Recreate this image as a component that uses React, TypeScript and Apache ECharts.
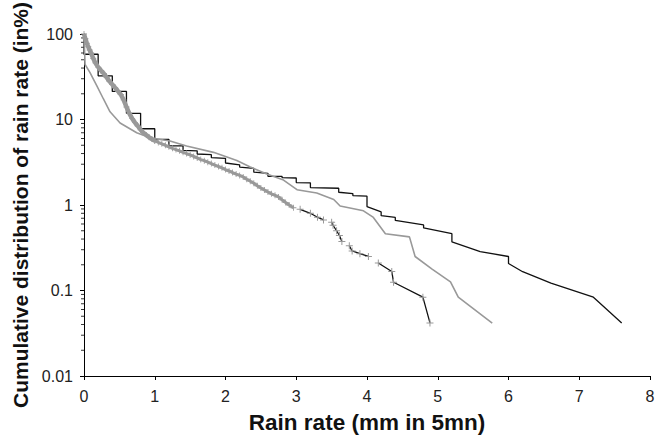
import React, { useEffect, useRef } from "react";
import * as echarts from "echarts";

// Black step-like curve
const blackX = [0, 0, 0.2, 0.2, 0.4, 0.4, 0.6, 0.6, 0.8, 0.8, 1.0, 1.0, 1.2, 1.2, 1.4, 1.4, 1.6, 1.6, 1.8, 1.8, 2.0, 2.0, 2.2, 2.2, 2.4, 2.4, 2.6, 2.6, 2.8, 2.8, 3.0, 3.0, 3.2, 3.2, 3.6, 3.6, 3.8, 3.8, 4.0, 4.0, 4.2, 4.2, 4.4, 4.4, 4.8, 4.8, 5.2, 5.2, 5.6, 6.0, 6.0, 6.2, 6.6, 7.2, 7.6];
const blackY = [100, 58, 58, 32.4, 32.4, 21.3, 21.3, 11.8, 11.8, 7.8, 7.8, 5.87, 5.87, 4.92, 4.92, 4.35, 4.3, 3.95, 3.88, 3.58, 3.52, 3.1, 2.95, 2.78, 2.68, 2.42, 2.35, 2.17, 2.16, 2.09, 2.07, 1.83, 1.82, 1.6, 1.57, 1.41, 1.36, 1.29, 1.27, 0.96, 0.83, 0.75, 0.716, 0.66, 0.585, 0.54, 0.462, 0.371, 0.285, 0.25, 0.207, 0.166, 0.122, 0.0836, 0.0416];

// Thin gray curve
const grayX = [0, 0.015, 0.085, 0.18, 0.273, 0.368, 0.51, 0.745, 0.934, 1.216, 1.45, 1.83, 2.16, 2.35, 2.584, 2.82, 3.01, 3.29, 3.53, 3.62, 3.95, 4.09, 4.26, 4.6, 4.68, 4.92, 5.18, 5.29, 5.77];
const grayY = [100, 44, 35.3, 24.9, 17.5, 12.3, 9.1, 7.0, 6.1, 5.6, 4.9, 4.13, 3.32, 2.79, 2.3, 1.96, 1.51, 1.38, 1.16, 0.975, 0.855, 0.716, 0.462, 0.424, 0.25, 0.178, 0.126, 0.0836, 0.0416];

// Gray "+" marked curve, dense head (0 to 1 mm)
const headX = [0, 0.02, 0.04, 0.06, 0.08, 0.1, 0.13, 0.16, 0.2, 0.24, 0.28, 0.32, 0.36, 0.4, 0.44, 0.48, 0.52, 0.56, 0.6, 0.64, 0.68, 0.72, 0.76, 0.8, 0.84, 0.88, 0.92, 0.96, 1.0];
const headY = [100, 88, 78, 71, 65, 60, 52, 46, 41, 37.5, 34.5, 31, 28, 25.7, 23.5, 21.5, 19.6, 17, 14, 11.8, 10.3, 9.2, 8.4, 7.6, 7.0, 6.6, 6.2, 5.9, 5.65];
// Gray "+" marked curve, dense middle (1 to 3 mm)
const midX = [1.0, 1.05, 1.1, 1.15, 1.2, 1.25, 1.3, 1.35, 1.4, 1.45, 1.5, 1.55, 1.6, 1.65, 1.7, 1.75, 1.8, 1.85, 1.9, 1.95, 2.0, 2.05, 2.1, 2.15, 2.2, 2.25, 2.3, 2.35, 2.4, 2.45, 2.5, 2.55, 2.6, 2.65, 2.7, 2.75, 2.8, 2.85, 2.9, 2.96];
const midY = [5.65, 5.4, 5.2, 5.0, 4.8, 4.6, 4.45, 4.3, 4.13, 4.0, 3.85, 3.7, 3.55, 3.4, 3.3, 3.17, 3.05, 2.93, 2.82, 2.72, 2.6, 2.5, 2.4, 2.3, 2.22, 2.13, 2.0, 1.9, 1.8, 1.68, 1.58, 1.5, 1.42, 1.35, 1.3, 1.24, 1.15, 1.07, 1.0, 0.93];

// Tail segments of the "+" curve (broken line)
const tail1X = [3.055, 3.2, 3.3, 3.385];
const tail1Y = [0.89, 0.8, 0.72, 0.67];
const tail2X = [3.5, 3.52, 3.57, 3.61, 3.645];
const tail2Y = [0.628, 0.58, 0.5, 0.44, 0.375];
const tail3X = [3.75, 3.79, 3.9, 4.02];
const tail3Y = [0.334, 0.29, 0.27, 0.25];
const tail4X = [4.16, 4.35, 4.375, 4.79, 4.89];
const tail4Y = [0.21, 0.167, 0.125, 0.0836, 0.0418];

const yMinorTicks = [0.02, 0.03, 0.04, 0.05, 0.06, 0.07, 0.08, 0.09, 0.2, 0.3, 0.4, 0.5, 0.6, 0.7, 0.8, 0.9, 2, 3, 4, 5, 6, 7, 8, 9, 20, 30, 40, 50, 60, 70, 80, 90];

const zip = (xs: number[], ys: number[]) => xs.map((x, i) => [x, ys[i]]);

const FONT = "'Liberation Sans', Arial, sans-serif";
const PLUS = "path://M3,0H4V3H7V4H4V7H3V4H0V3H3Z";

export default function App() {
  const ref = useRef<HTMLDivElement>(null);
  useEffect(() => {
    const chart = echarts.init(ref.current!, null, { renderer: "svg" });
    const tailSeries = [
      [tail1X, tail1Y],
      [tail2X, tail2Y],
      [tail3X, tail3Y],
      [tail4X, tail4Y],
    ].map(([xs, ys]) => ({
      type: "line",
      data: zip(xs as number[], ys as number[]),
      symbol: PLUS,
      symbolSize: 7,
      showSymbol: true,
      itemStyle: { color: "#999" },
      lineStyle: { color: "#111", width: 1.3 },
      z: 5,
    }));
    chart.setOption({
      animation: false,
      backgroundColor: "#fff",
      grid: { left: 84, right: 17, top: 27, bottom: 61 },
      xAxis: {
        type: "value",
        min: 0,
        max: 8,
        interval: 1,
        name: "Rain rate (mm in 5mn)",
        nameLocation: "middle",
        nameGap: 35,
        nameTextStyle: { fontFamily: FONT, fontWeight: "bold", fontSize: 22.5, color: "#111" },
        axisLine: { show: true, lineStyle: { color: "#000", width: 1 } },
        axisTick: { show: true, length: 4, lineStyle: { color: "#000" } },
        axisLabel: { fontFamily: FONT, fontSize: 16, color: "#222", margin: 12 },
        splitLine: { show: false },
      },
      yAxis: {
        type: "log",
        logBase: 10,
        min: 0.01,
        max: 100,
        name: "Cumulative distribution of rain rate (in%)",
        nameLocation: "middle",
        nameRotate: 90,
        nameGap: 50,
        nameTextStyle: { fontFamily: FONT, fontWeight: "bold", fontSize: 21, color: "#111" },
        axisLine: { show: true, lineStyle: { color: "#000", width: 1 } },
        axisTick: { show: true, length: 4, lineStyle: { color: "#000" } },
        axisLabel: {
          fontFamily: FONT,
          fontSize: 16,
          color: "#222",
          margin: 11,
          formatter: (v: number) => {
            const e = Math.round(Math.log10(v));
            return e >= 0 ? String(Math.pow(10, e)) : Math.pow(10, e).toFixed(-e);
          },
        },
        splitLine: { show: false },
      },
      series: [
        {
          type: "scatter",
          data: yMinorTicks.map((v) => [0, v]),
          symbol: "rect",
          symbolSize: [3, 1],
          symbolOffset: [-1.5, 0],
          itemStyle: { color: "#000" },
          clip: false,
          silent: true,
          z: 1,
        },
        {
          type: "line",
          data: zip(blackX, blackY),
          showSymbol: false,
          symbol: "none",
          lineStyle: { color: "#111", width: 1.3 },
          z: 2,
        },
        {
          type: "line",
          data: zip(grayX, grayY),
          showSymbol: false,
          symbol: "none",
          lineStyle: { color: "#999", width: 1.6 },
          z: 3,
        },
        {
          type: "line",
          data: zip(headX, headY),
          symbol: PLUS,
          symbolSize: 6,
          showSymbol: true,
          itemStyle: { color: "#999" },
          lineStyle: { color: "#999", width: 4.5 },
          z: 4,
        },
        {
          type: "line",
          data: zip(midX, midY),
          symbol: PLUS,
          symbolSize: 6,
          showSymbol: true,
          itemStyle: { color: "#999" },
          lineStyle: { color: "#999", width: 3 },
          z: 4,
        },
        ...tailSeries,
      ],
    });
    return () => chart.dispose();
  }, []);
  return (
    <div
      ref={ref}
      style={{ position: "absolute", left: 0, top: 0, width: 667, height: 439, background: "#fff" }}
    />
  );
}
